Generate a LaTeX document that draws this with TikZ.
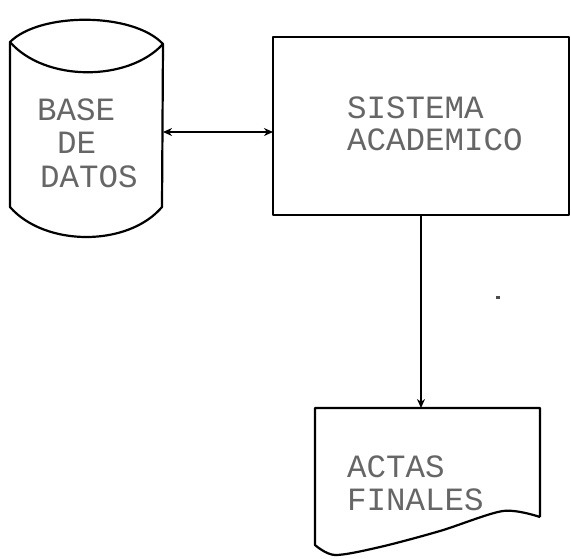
\documentclass[tikz,border=0pt]{standalone}
\usepackage{fontspec}
\setmonofont{Liberation Mono}
\usetikzlibrary{arrows.meta}
\begin{document}
\begin{tikzpicture}[x=1pt,y=-1pt,
  >={Stealth[length=9pt,width=8pt]},
  outline/.style={line width=2.2pt, line join=round},
  holder/.style={inner sep=0pt, outer sep=0pt},
  lbl/.style={font=\ttfamily\fontsize{32.5}{34}\selectfont, text=black!60, inner sep=0pt, anchor=base west},
  arr/.style={line width=1.7pt},
]
\useasboundingbox (0,0) rectangle (571,558);
% shape holders
\node[holder, minimum width=153pt, minimum height=210pt] (db) at (86.5,132) {};
\node[holder, minimum width=296pt, minimum height=178pt] (sys) at (421,126) {};
\node[holder, minimum width=225pt, minimum height=147pt] (doc) at (427.5,481.5) {};
% database cylinder
\draw[outline] (10,42) .. controls (40,12) and (133,12) .. (163,44) -- (162,207)
  .. controls (128,247) and (45,247) .. (10,207) -- cycle;
\draw[outline] (10,42) .. controls (45,82) and (128,82) .. (163,44);
% system box
\draw[outline] (sys.north west) rectangle (sys.south east);
% document
\draw[outline] (540,517) -- (540,408) -- (315,408) -- plot[smooth] coordinates {(315,545) (335,555) (380,547) (440,531) (503,511) (540,517)};
% speck
\fill[black!70] (496,295.5) rectangle (500,298.5);
% texts
\node[lbl] (t1) at (37,120) {BASE};
\node[lbl] (t2) at (57,153) {DE};
\node[lbl] (t3) at (40,187) {DATOS};
\node[lbl] (t4) at (347,118) {SISTEMA};
\node[lbl] (t5) at (347,150) {ACADEMICO};
\node[lbl] (t6) at (347,477) {ACTAS};
\node[lbl] (t7) at (347,510) {FINALES};
% connectors
\coordinate (mid) at (218,132);
\draw[arr, <->] (db.east |- mid) -- (sys.west |- mid);
\draw[arr, ->] (sys.south) -- (sys.south |- doc.north);
\end{tikzpicture}
\end{document}
